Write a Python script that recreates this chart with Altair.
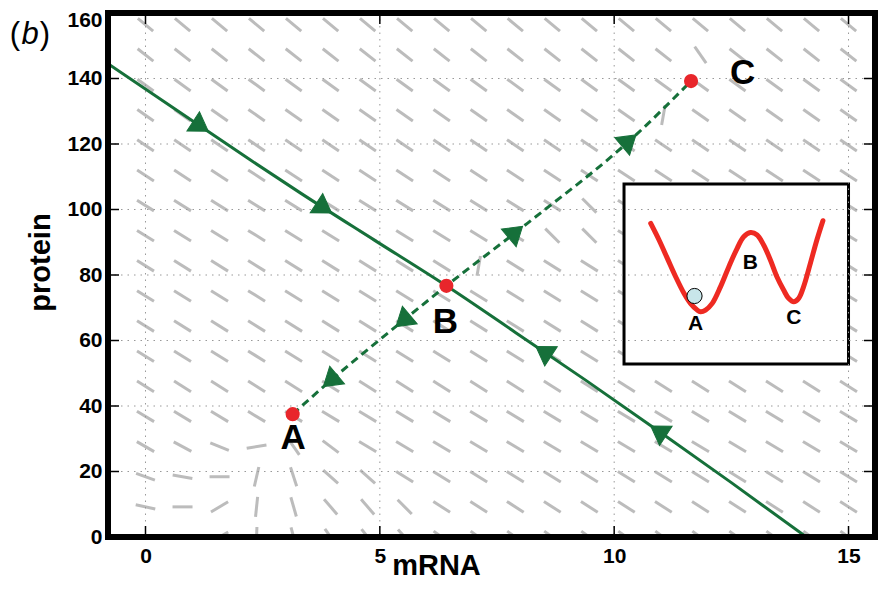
import altair as alt
import pandas as pd

W, H = 767, 524
FONT = "Liberation Sans"

# ---- axes ----
X_DOMAIN = [-0.8, 15.565]
Y_DOMAIN = [0, 160]
X_TICKS = [0, 5, 10, 15]
Y_TICKS = [0, 20, 40, 60, 80, 100, 120, 140, 160]
X_GRID = [0, 5, 10, 15]
Y_GRID = [20, 40, 60, 80, 100, 120, 140]

# ---- direction field (grid of unit dashes) ----
FIELD_M = [0.0, 0.79, 1.58, 2.37, 3.16, 3.95, 4.74, 5.53, 6.32, 7.11,
           7.89, 8.68, 9.47, 10.26, 11.05, 11.84, 12.63, 13.42, 14.21, 15.0]
FIELD_P = [0.0, 9.2, 18.4, 27.6, 36.8, 46.0, 55.2, 64.4, 73.6, 82.8,
           92.0, 101.2, 110.4, 119.6, 128.8, 138.0, 147.2, 156.4]
# typical dash angle (deg, clockwise from horizontal) for each row, bottom row first
ROW_ANGLE = [36, 33, 32, 31, 31, 32, 32, 32, 32, 32,
             32, 32, 33, 34, 35, 36, 38, 40]
# dashes that differ from their row: (column index, row index, angle)
FIELD_EXCEPTIONS = [
    (0, 0, 5), (1, 0, 0), (2, 0, 150), (3, 0, 92), (4, 0, 75), (5, 0, 55), (6, 0, 52), (7, 0, 48),
    (0, 1, 12), (1, 1, 0), (2, 1, 149), (3, 1, 96), (4, 1, 74), (5, 1, 49), (6, 1, 49), (7, 1, 45),
    (0, 2, 20), (1, 2, 10), (2, 2, 0), (3, 2, 103), (4, 2, 72), (5, 2, 42), (6, 2, 42),
    (0, 3, 30), (1, 3, 28), (2, 3, 22), (3, 3, 351), (4, 3, 55), (5, 3, 37),
    (9, 9, 100), (11, 10, 45), (12, 10, 45), (12, 11, 45), (14, 14, 100), (15, 16, 55),
]

# ---- trajectories ----
STABLE_M = [-0.8, 0.7, 2.24, 3.31, 4.9, 6.42, 7.9, 9.39, 10.9, 12.5, 14.1]
STABLE_P = [144.5, 130.0, 115.1, 105.0, 90.5, 76.7, 62.4, 47.9, 32.8, 16.6, 0.0]
UNSTABLE_M = [3.14, 4.01, 5.2, 6.42, 8.14, 10.42, 11.64]
UNSTABLE_P = [37.5, 48.5, 62.6, 76.7, 95.7, 122.2, 139.2]

ARROW_M = [1.17, 3.8, 8.5, 10.95, 3.95, 5.5, 7.89, 10.31]
ARROW_P = [125.5, 100.5, 56.6, 32.3, 47.8, 66.1, 93.0, 120.9]
ARROW_ANGLE = [123, 123, 303, 303, 230, 230, 50, 50]

FIXED_NAME = ["A", "B", "C"]
FIXED_M = [3.14, 6.42, 11.64]
FIXED_P = [37.5, 76.7, 139.2]
LABEL_M = [3.15, 6.40, 12.74]
LABEL_P = [30.1, 65.8, 141.8]

# ---- inset (double-well landscape), coordinates in percent of the inset box ----
INSET_BOX_M = [10.21, 15.0]
INSET_BOX_P = [52.8, 107.8]
INSET_U = [11.9, 15.6, 19.3, 23.0, 26.7, 29.6, 32.6, 34.1, 36.3, 39.3, 43.0, 46.7, 50.4,
           53.3, 56.3, 59.3, 62.2, 65.2, 68.1, 71.1, 73.3, 75.6, 77.8, 80.0, 83.0, 85.9, 88.6]
INSET_V = [78.1, 68.9, 58.7, 48.5, 39.3, 33.7, 30.0, 29.1, 30.0, 33.7, 43.0, 54.1, 64.3,
           70.7, 73.0, 71.7, 66.1, 57.8, 48.5, 41.1, 36.5, 34.6, 36.5, 43.0, 55.9, 68.9, 79.6]
BALL_U, BALL_V = 31.4, 37.8
INSET_LABEL = ["A", "B", "C"]
INSET_LABEL_U = [31.9, 56.3, 75.6]
INSET_LABEL_V = [22.4, 55.9, 25.4]

GREEN = "#16703a"
RED = "#e8262b"
GRAY = "#bcbcbc"


def to_m(u):
    return INSET_BOX_M[0] + u / 100.0 * (INSET_BOX_M[1] - INSET_BOX_M[0])


def to_p(v):
    return INSET_BOX_P[0] + v / 100.0 * (INSET_BOX_P[1] - INSET_BOX_P[0])


xs = alt.Scale(domain=X_DOMAIN, nice=False, zero=False)
ys = alt.Scale(domain=Y_DOMAIN, nice=False, zero=False)


def X(field="m", **kw):
    return alt.X(f"{field}:Q", scale=xs, **kw)


def Y(field="p", **kw):
    return alt.Y(f"{field}:Q", scale=ys, **kw)


# field table
angles = [[ROW_ANGLE[r]] * len(FIELD_M) for r in range(len(FIELD_P))]
for c, r, a in FIELD_EXCEPTIONS:
    angles[r][c] = a
field_df = pd.DataFrame([
    {"m": FIELD_M[c], "p": FIELD_P[r], "ang": angles[r][c]}
    for r in range(len(FIELD_P)) for c in range(len(FIELD_M))
])

x_axis = alt.Axis(values=X_TICKS, grid=False, ticks=False, domain=False, labelFlush=False,
                  labelFont=FONT, labelFontSize=21, labelFontWeight="bold", labelColor="black",
                  labelPadding=8, title="mRNA", titleFont=FONT, titleFontSize=29,
                  titleFontWeight="bold", titleColor="black", titleX=328, titleY=37,
                  titleBaseline="alphabetic", titleAlign="center")
y_axis = alt.Axis(values=Y_TICKS, grid=False, ticks=False, domain=False, labelFlush=False,
                  labelFont=FONT, labelFontSize=21, labelFontWeight="bold", labelColor="black",
                  labelOffset={"condition": {"test": "datum.value == 160", "value": 7}, "value": 0},
                  labelPadding=6, title="protein", titleFont=FONT, titleFontSize=29,
                  titleFontWeight="bold", titleColor="black", titleX=-59, titleY=249,
                  titleBaseline="alphabetic", titleAlign="center", titleAngle=270)

field = alt.Chart(field_df).mark_point(
    shape="M-1,0L1,0", size=400, filled=False, stroke=GRAY, strokeWidth=3, opacity=1, clip=True
).encode(
    x=X(axis=x_axis), y=Y(axis=y_axis), angle=alt.Angle("ang:Q", scale=None)
)

box_df = pd.DataFrame({"m": [INSET_BOX_M[0]], "m2": [INSET_BOX_M[1]],
                       "p": [INSET_BOX_P[0]], "p2": [INSET_BOX_P[1]]})
box = alt.Chart(box_df).mark_rect(fill="white", stroke="black", strokeWidth=3).encode(
    x=X("m"), x2="m2", y=Y("p"), y2="p2")

vgrid = alt.Chart(pd.DataFrame({"m": X_GRID})).mark_rule(
    stroke="#999999", strokeWidth=1, strokeDash=[1.5, 5]).encode(
    x=X("m"), y=alt.value(0), y2=alt.value(H))
hgrid = alt.Chart(pd.DataFrame({"p": Y_GRID})).mark_rule(
    stroke="#999999", strokeWidth=1, strokeDash=[1.5, 5]).encode(
    y=Y("p"), x=alt.value(0), x2=alt.value(W))

xt = pd.DataFrame({"m": X_TICKS})
yt = pd.DataFrame({"p": Y_TICKS})
TL = 11
ticks = [
    alt.Chart(xt).mark_rule(stroke="black", strokeWidth=1.5).encode(x=X("m"), y=alt.value(H), y2=alt.value(H - TL)),
    alt.Chart(xt).mark_rule(stroke="black", strokeWidth=1.5).encode(x=X("m"), y=alt.value(0), y2=alt.value(TL)),
    alt.Chart(yt).mark_rule(stroke="black", strokeWidth=1.5).encode(y=Y("p"), x=alt.value(0), x2=alt.value(TL)),
    alt.Chart(yt).mark_rule(stroke="black", strokeWidth=1.5).encode(y=Y("p"), x=alt.value(W), x2=alt.value(W - TL)),
]

stable_df = pd.DataFrame({"m": STABLE_M, "p": STABLE_P, "i": range(len(STABLE_M))})
stable = alt.Chart(stable_df).mark_line(color=GREEN, strokeWidth=3, interpolate="monotone", clip=True).encode(
    x=X(), y=Y(), order="i:O")
unstable_df = pd.DataFrame({"m": UNSTABLE_M, "p": UNSTABLE_P, "i": range(len(UNSTABLE_M))})
unstable = alt.Chart(unstable_df).mark_line(color=GREEN, strokeWidth=3, strokeDash=[8, 5],
                                            interpolate="monotone").encode(x=X(), y=Y(), order="i:O")

arrow_df = pd.DataFrame({"m": ARROW_M, "p": ARROW_P, "ang": ARROW_ANGLE})
arrows = alt.Chart(arrow_df).mark_point(
    shape="M0,-0.95L1.15,0.85L-1.15,0.85Z", size=400, filled=True, fill=GREEN, stroke=GREEN,
    strokeWidth=1, opacity=1).encode(x=X(), y=Y(), angle=alt.Angle("ang:Q", scale=None))

fixed_df = pd.DataFrame({"m": FIXED_M, "p": FIXED_P})
dots = alt.Chart(fixed_df).mark_circle(size=200, color=RED, opacity=1).encode(x=X(), y=Y())

lab_df = pd.DataFrame({"m": LABEL_M, "p": LABEL_P, "t": FIXED_NAME})
labels = alt.Chart(lab_df).mark_text(font=FONT, fontSize=35, fontWeight="bold", color="black",
                                     align="center", baseline="middle").encode(x=X(), y=Y(), text="t:N")

curve_df = pd.DataFrame({"m": [to_m(u) for u in INSET_U], "p": [to_p(v) for v in INSET_V],
                         "i": range(len(INSET_U))})
curve = alt.Chart(curve_df).mark_line(color="#ee2a22", strokeWidth=5, interpolate="catmull-rom",
                                      strokeCap="round").encode(x=X(), y=Y(), order="i:O")
ball = alt.Chart(pd.DataFrame({"m": [to_m(BALL_U)], "p": [to_p(BALL_V)]})).mark_point(
    shape="circle", size=230, filled=True, fill="#c8e6ea", stroke="black", strokeWidth=1,
    opacity=1).encode(x=X(), y=Y())
ilab_df = pd.DataFrame({"m": [to_m(u) for u in INSET_LABEL_U], "p": [to_p(v) for v in INSET_LABEL_V],
                        "t": INSET_LABEL})
ilabels = alt.Chart(ilab_df).mark_text(font=FONT, fontSize=21, fontWeight="bold", color="black",
                                       align="center", baseline="middle").encode(x=X(), y=Y(), text="t:N")

# panel tag "(b)": upright parentheses, italic b
PANEL_TEXT = ["(", "b", ")"]
PANEL_STYLE = ["normal", "italic", "normal"]
PANEL_X = [-93, -78, -63]
panel = [
    alt.Chart(pd.DataFrame({"t": [t]})).mark_text(
        font=FONT, fontSize=31, fontStyle=s, color="black", align="center", baseline="middle"
    ).encode(x=alt.value(px), y=alt.value(22), text="t:N")
    for t, s, px in zip(PANEL_TEXT, PANEL_STYLE, PANEL_X)
]

frame = alt.Chart(pd.DataFrame({"a": [0]})).mark_rect(fill="transparent", stroke="black", strokeWidth=6).encode(
    x=alt.value(0), x2=alt.value(W), y=alt.value(0), y2=alt.value(H))

chart = alt.layer(
    field, box, vgrid, hgrid, *ticks, stable, unstable, arrows, dots, labels,
    curve, ball, ilabels, *panel, frame
).properties(
    width=W, height=H,
    autosize=alt.AutoSizeParams(type="none"),
    padding={"left": 100, "top": 5, "right": 3, "bottom": 44},
).configure_view(stroke="transparent")

chart.save("out.html", embed_options={"renderer": "svg", "actions": False})
